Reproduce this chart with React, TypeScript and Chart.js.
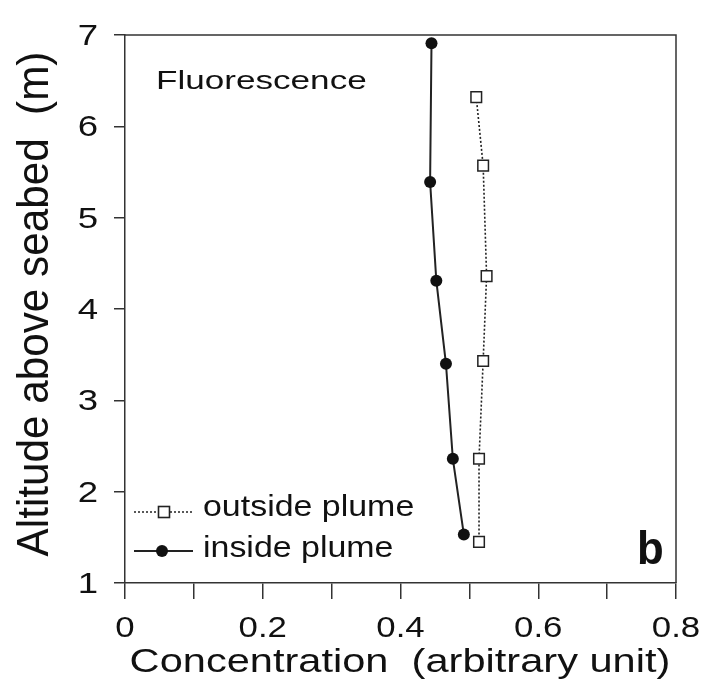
import React, { useEffect, useRef } from "react";
import { Chart, registerables } from "chart.js";

Chart.register(...registerables);

// Fluorescence profiles: concentration vs altitude above seabed
const insideConc = [0.445, 0.443, 0.452, 0.466, 0.476, 0.492];
const insideAlt = [6.91, 5.39, 4.31, 3.4, 2.36, 1.53];
const outsideConc = [0.51, 0.52, 0.525, 0.52, 0.514, 0.514];
const outsideAlt = [6.32, 5.57, 4.36, 3.43, 2.36, 1.45];

const xTickLabels = ["0", "0.2", "0.4", "0.6", "0.8"];
const yTickLabels = ["1", "2", "3", "4", "5", "6", "7"];

const seriesNames = ["outside plume", "inside plume"];
const panelTitle = "Fluorescence";
const panelLetter = "b";
const xTitle = "Concentration  (arbitrary unit)";
const yTitle = "Altitude above seabed  (m)";

const FONT = "'Liberation Sans', Arial, sans-serif";
const INK = "#111";
const AXIS = "#333";

function wideText(
  ctx: CanvasRenderingContext2D,
  text: string,
  x: number,
  y: number,
  size: number,
  sx: number,
  sy: number,
  align: CanvasTextAlign,
  rotated = false,
  weight = "normal"
) {
  ctx.save();
  ctx.translate(x, y);
  if (rotated) ctx.rotate(-Math.PI / 2);
  ctx.scale(sx, sy);
  ctx.font = `${weight} ${size}px ${FONT}`;
  ctx.fillStyle = INK;
  ctx.textAlign = align;
  ctx.textBaseline = "alphabetic";
  ctx.fillText(text, 0, 0);
  ctx.restore();
}

const annotations = {
  id: "annotations",
  afterDraw(chart: any) {
    const ctx: CanvasRenderingContext2D = chart.ctx;
    const area = chart.chartArea;
    const xs = chart.scales.x;
    const ys = chart.scales.y;

    // top and right frame lines
    ctx.save();
    ctx.strokeStyle = AXIS;
    ctx.lineWidth = 1.5;
    ctx.beginPath();
    ctx.moveTo(area.left, area.top);
    ctx.lineTo(area.right, area.top);
    ctx.lineTo(area.right, area.bottom);
    ctx.stroke();
    ctx.restore();

    // tick labels
    xTickLabels.forEach((t) => {
      wideText(ctx, t, xs.getPixelForValue(parseFloat(t)), 637, 29, 1.2, 1, "center");
    });
    yTickLabels.forEach((t) => {
      wideText(ctx, t, 98, ys.getPixelForValue(parseFloat(t)) + 10, 30, 1.22, 1, "right");
    });

    // axis titles
    wideText(ctx, xTitle, 400, 672, 33, 1.26, 1, "center");
    wideText(ctx, yTitle, 48, 304, 33, 1.28, 1.33, "center", true);

    // panel annotations
    wideText(ctx, panelTitle, 156, 89, 26, 1.35, 1, "left");
    wideText(ctx, panelLetter, 637, 564, 46, 0.95, 1, "left", false, "bold");

    // legend
    ctx.save();
    ctx.strokeStyle = "#222";
    ctx.lineWidth = 1.6;
    ctx.setLineDash([2, 2]);
    ctx.beginPath();
    ctx.moveTo(134, 512);
    ctx.lineTo(193, 512);
    ctx.stroke();
    ctx.setLineDash([]);
    ctx.fillStyle = "#fff";
    ctx.fillRect(158.5, 506.5, 11, 11);
    ctx.strokeRect(158.5, 506.5, 11, 11);

    ctx.strokeStyle = "#222";
    ctx.lineWidth = 2;
    ctx.beginPath();
    ctx.moveTo(134, 551);
    ctx.lineTo(193, 551);
    ctx.stroke();
    ctx.fillStyle = "#111";
    ctx.beginPath();
    ctx.arc(162, 551, 6, 0, Math.PI * 2);
    ctx.fill();
    ctx.restore();

    wideText(ctx, seriesNames[0], 203, 516, 29, 1.17, 1, "left");
    wideText(ctx, seriesNames[1], 203, 557, 29, 1.17, 1, "left");
  },
};

export default function App() {
  const canvasRef = useRef<HTMLCanvasElement | null>(null);

  useEffect(() => {
    if (!canvasRef.current) return;
    const chart = new Chart(canvasRef.current, {
      type: "line",
      data: {
        datasets: [
          {
            label: seriesNames[0],
            data: outsideConc.map((c, i) => ({ x: c, y: outsideAlt[i] })),
            borderColor: "#222",
            borderWidth: 1.6,
            borderDash: [2, 2],
            pointStyle: "rect",
            pointRadius: 7.5,
            pointBorderWidth: 1.5,
            pointBorderColor: "#222",
            pointBackgroundColor: "#fff",
            fill: false,
            tension: 0,
          },
          {
            label: seriesNames[1],
            data: insideConc.map((c, i) => ({ x: c, y: insideAlt[i] })),
            borderColor: "#222",
            borderWidth: 2,
            pointStyle: "circle",
            pointRadius: 6,
            pointBorderWidth: 0,
            pointBackgroundColor: "#111",
            fill: false,
            tension: 0,
          },
        ],
      },
      options: {
        responsive: false,
        animation: false,
        layout: { padding: { left: 114, right: 27, top: 35, bottom: 101 } },
        plugins: {
          legend: { display: false },
          tooltip: { enabled: false },
        },
        scales: {
          x: {
            type: "linear",
            min: 0,
            max: 0.8,
            ticks: { display: false, stepSize: 0.1 },
            grid: {
              drawOnChartArea: false,
              drawTicks: true,
              tickLength: 16,
              tickColor: AXIS,
              lineWidth: 1.5,
            },
            border: { display: true, color: AXIS, width: 1.5 },
          },
          y: {
            type: "linear",
            min: 1,
            max: 7,
            ticks: { display: false, stepSize: 1 },
            grid: {
              drawOnChartArea: false,
              drawTicks: true,
              tickLength: 11,
              tickColor: AXIS,
              lineWidth: 1.5,
            },
            border: { display: true, color: AXIS, width: 1.5 },
          },
        },
      },
      plugins: [annotations],
    });
    return () => chart.destroy();
  }, []);

  return (
    <div style={{ position: "fixed", left: 0, top: 0, width: 703, height: 700, background: "#fff" }}>
      <canvas ref={canvasRef} width={703} height={700} style={{ width: 703, height: 700 }} />
    </div>
  );
}
